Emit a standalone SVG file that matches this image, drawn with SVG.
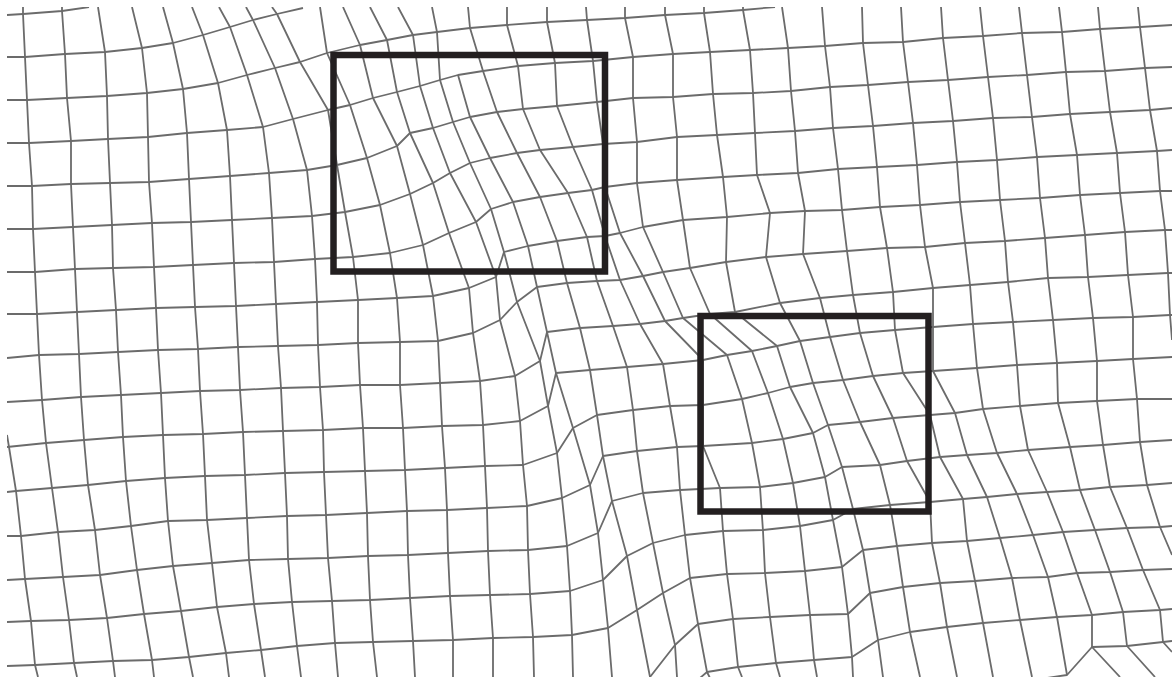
<svg xmlns="http://www.w3.org/2000/svg" width="1174" height="678" viewBox="0 0 1174 678">
<defs>
<style>
.g{fill:none;stroke:#6b6b6b;stroke-width:1.8;stroke-linejoin:round;stroke-linecap:butt}
.f{fill:none;stroke:#231f20;stroke-width:6.5}
</style>
<clipPath id="cl"><rect x="7" y="7" width="1165" height="670"/></clipPath>
</defs>
<rect width="1174" height="678" fill="#ffffff"/>
<g clip-path="url(#cl)">
<g id="rows">
<polyline class="g" points="7,15 23,14 62,11 89,7"/>
<polyline class="g" points="7,57 25,57 65,54 105,52 142,48 173,43 203,35 230,27 253,20 277,14 303,8"/>
<polyline class="g" points="7,100 27,100 67,98 107,96 147,93 183,89 218,83 247,75 275,68 300,62 327,53 360,45 387,40 413,35 437,32 470,28 507,25 547,22 587,20 625,18 665,15 704,13 743,10 775,7"/>
<polyline class="g" points="7,143 29,143 71,141 108,139 148,137 187,133 227,130 263,127 293,119 328,110 350,105 373,98 397,92 420,86 440,80 458,75 483,71 518,66 555,63 593,61 633,57 673,54 710,52 750,50 788,48 825,46 863,43 903,42 943,38 983,36 1022,33 1062,32 1100,29 1140,27 1172,25"/>
<polyline class="g" points="7,186 32,186 71,184 110,183 149,182 189,179 230,176 269,173 307,170 337,165 367,158 397,146 410,133 433,128 453,122 470,117 497,112 523,109 557,106 597,102 633,98 673,97 713,94 753,93 791,91 830,87 868,85 908,82 948,80 988,77 1027,75 1066,72 1105,71 1145,68 1172,67"/>
<polyline class="g" points="7,229 33,229 73,227 112,225 152,223 191,222 232,220 272,218 312,216 345,212 380,205 410,194 433,183 450,173 470,163 490,158 517,153 540,150 573,147 603,144 637,142 677,137 717,135 755,133 795,131 833,128 873,126 913,123 953,121 993,118 1032,117 1070,114 1110,112 1150,110 1172,108"/>
<polyline class="g" points="7,272 35,272 75,269 113,268 154,267 193,265 234,263 274,262 315,259 353,257 390,253 423,245 449,233 476,222 491,209 513,202 540,197 568,193 592,190 605,187 637,183 677,180 723,177 757,175 798,173 838,169 877,167 917,165 957,162 997,160 1037,157 1077,155 1117,153 1157,151 1172,150"/>
<polyline class="g" points="7,314 37,314 77,312 116,310 156,308 195,307 236,306 276,304 317,302 358,300 397,298 433,296 469,288 496,277 504,252 528,246 557,241 587,237 605,236 620,233 643,227 683,220 727,217 770,213 805,211 842,210 880,207 920,205 960,202 1000,200 1040,198 1080,195 1120,193 1160,191 1172,191"/>
<polyline class="g" points="7,358 39,355 79,354 118,352 158,350 198,349 238,347 278,346 318,345 358,343 400,342 438,341 473,333 500,320 517,302 537,287 567,283 597,281 620,280 643,276 663,272 690,268 726,262 766,257 803,254 847,251 887,248 925,247 965,243 1005,241 1045,238 1085,235 1125,232 1165,230 1172,230"/>
<polyline class="g" points="7,402 42,400 81,397 121,395 161,393 200,391 240,390 281,388 320,387 360,385 400,385 440,383 480,381 515,376 540,361 547,332 580,328 613,326 640,324 665,321 683,318 710,314 735,312 780,303 820,298 853,295 893,292 933,288 970,285 1008,282 1048,278 1088,277 1128,275 1168,273 1172,273"/>
<polyline class="g" points="7,447 46,443 84,440 123,437 163,435 203,434 243,432 283,431 323,430 363,428 403,428 442,426 483,425 520,421 548,406 556,373 590,370 627,367 663,364 703,360 727,355 752,351 777,346 800,341 830,337 860,333 895,330 933,327 973,324 1013,322 1053,320 1093,318 1133,317 1170,315 1172,315"/>
<polyline class="g" points="7,492 16,491 52,488 88,485 126,481 165,478 205,476 245,475 285,473 324,472 365,471 405,470 445,468 485,466 523,465 557,453 573,428 597,415 633,410 670,406 703,405 742,399 768,393 790,387 813,383 843,380 873,376 903,373 933,371 977,368 1017,365 1057,363 1097,361 1133,359 1172,357"/>
<polyline class="g" points="7,536 21,536 58,532 95,530 131,526 168,521 207,520 247,518 287,516 326,515 367,513 407,511 447,510 487,508 527,506 562,498 590,485 603,456 637,451 677,447 703,446 752,443 783,439 813,433 828,425 860,422 893,418 930,415 955,413 983,409 1020,406 1058,403 1097,401 1137,399 1172,399"/>
<polyline class="g" points="7,580 25,579 63,577 100,575 137,570 173,566 212,563 249,560 288,559 328,558 368,556 408,555 448,553 488,551 528,550 567,546 598,533 612,501 643,493 680,490 720,488 760,487 793,483 825,477 842,467 880,465 907,461 940,457 967,455 997,453 1028,450 1070,447 1103,445 1140,442 1172,440"/>
<polyline class="g" points="7,622 31,621 69,620 107,618 144,614 181,611 217,607 254,604 292,602 332,601 370,600 410,598 450,596 490,595 530,594 570,591 603,580 627,556 653,543 685,535 723,531 763,530 800,526 833,520 853,509 890,505 930,502 963,499 987,497 1017,494 1047,492 1080,490 1110,487 1147,485 1172,483"/>
<polyline class="g" points="7,666 35,665 74,663 113,661 152,660 189,657 226,653 261,650 297,646 335,643 373,642 413,641 453,640 493,638 533,637 572,635 608,628 637,610 663,593 690,578 727,574 765,573 805,571 842,567 863,550 897,546 932,543 967,541 1000,538 1033,535 1063,532 1095,530 1127,528 1160,527 1172,526"/>
<polyline class="g" points="650,677 675,645 698,624 733,619 770,617 810,615 848,614 870,593 903,587 940,583 975,581 1012,578 1048,577 1077,573 1110,572 1143,570 1172,569"/>
<polyline class="g" points="700,678 707,672 738,667 776,663 814,660 852,657 878,640 910,632 947,627 983,623 1020,620 1057,617 1092,615 1123,612 1160,610 1172,609"/>
<polyline class="g" points="1040,679 1067,675 1092,647 1127,646 1163,642 1172,641"/>
</g>
<g id="columns">
<polyline class="g" points="7,435 9,447 16,491 21,536 25,579 31,621 35,665 38,677"/>
<polyline class="g" points="23,7 23,14 25,57 27,100 29,143 32,186 33,229 35,272 37,314 39,355 42,400 46,443 52,488 58,532 63,577 69,620 74,663 77,677"/>
<polyline class="g" points="62,7 62,11 65,54 67,98 71,141 71,184 73,227 75,269 77,312 79,354 81,397 84,440 88,485 95,530 100,575 107,618 113,661 115,677"/>
<polyline class="g" points="98,7 105,52 107,96 108,139 110,183 112,225 113,268 116,310 118,352 121,395 123,437 126,481 131,526 137,570 144,614 152,660 154,677"/>
<polyline class="g" points="132,7 142,48 147,93 148,137 149,182 152,223 154,267 156,308 158,350 161,393 163,435 165,478 168,521 173,566 181,611 189,657 193,677"/>
<polyline class="g" points="163,7 173,43 183,89 187,133 189,179 191,222 193,265 195,307 198,349 200,391 203,434 205,476 207,520 212,563 217,607 226,653 229,677"/>
<polyline class="g" points="192,7 203,35 218,83 227,130 230,176 232,220 234,263 236,306 238,347 240,390 243,432 245,475 247,518 249,560 254,604 261,650 265,677"/>
<polyline class="g" points="219,7 230,27 247,75 263,127 269,173 272,218 274,262 276,304 278,346 281,388 283,431 285,473 287,516 288,559 292,602 297,646 301,677"/>
<polyline class="g" points="246,7 253,20 275,68 293,119 307,170 312,216 315,259 317,302 318,345 320,387 323,430 324,472 326,515 328,558 332,601 335,643 338,677"/>
<polyline class="g" points="272,7 277,14 300,62 328,110 337,165 345,212 353,257 358,300 358,343 360,385 363,428 365,471 367,513 368,556 370,600 373,642 377,677"/>
<polyline class="g" points="320,7 327,53 350,105 367,158 380,205 390,253 397,298 400,342 400,385 403,428 405,470 407,511 408,555 410,598 413,641 415,677"/>
<polyline class="g" points="343,7 360,45 373,98 397,146 410,194 423,245 433,296 438,341 440,383 442,426 445,468 447,510 448,553 450,596 453,640 453,677"/>
<polyline class="g" points="370,7 387,40 397,92 410,133 433,183 449,233 469,288 473,333 480,381 483,425 485,466 487,508 488,551 490,595 493,638 493,677"/>
<polyline class="g" points="398,7 413,35 420,86 433,128 450,173 476,222 496,277 500,320 515,376 520,421 523,465 527,506 528,550 530,594 533,637 534,677"/>
<polyline class="g" points="432,7 437,32 440,80 453,122 470,163 491,209 504,252 517,302 540,361 548,406 557,453 562,498 567,546 570,591 572,635 573,677"/>
<polyline class="g" points="458,75 470,117 490,158 513,202 528,246 537,287 547,332 556,373 573,428 590,485 598,533 603,580 608,628 612,677"/>
<polyline class="g" points="468,7 470,28 483,71 497,112 517,153 540,197 557,241 567,283 580,328 590,370 597,415 603,456 612,501 627,556 637,610 650,677"/>
<polyline class="g" points="507,7 507,25 518,66 523,109 540,150 568,193 587,237 597,281 613,326 627,367 633,410 637,451 643,493 653,543 663,593 675,645 677,677"/>
<polyline class="g" points="547,7 547,22 555,63 557,106 573,147 592,190 605,236 620,280 640,324 663,364 670,406 677,447 680,490 685,535 690,578 698,624 707,672 710,678"/>
<polyline class="g" points="586,7 587,20 593,61 597,102 603,144 605,187 620,233 643,276 665,321 703,360 703,405 703,446 720,488 723,531 727,574 733,619 738,667 742,677"/>
<polyline class="g" points="625,7 625,18 633,57 633,98 637,142 637,183 643,227 663,272 683,318 727,355 742,399 752,443 760,487 763,531 765,573 770,617 776,663 780,677"/>
<polyline class="g" points="665,7 665,15 673,54 673,97 677,137 677,180 683,220 690,268 710,314 752,351 768,393 783,439 793,483 800,526 805,571 810,615 814,660 817,677"/>
<polyline class="g" points="704,7 704,13 710,52 713,94 717,135 723,177 727,217 726,262 735,312 777,346 790,387 813,433 825,477 833,520 842,567 848,614 852,657 853,677"/>
<polyline class="g" points="743,7 743,10 750,50 753,93 755,133 757,175 770,213 766,257 780,303 800,341 813,383 828,425 842,467 853,509 863,550 870,593 878,640 883,677"/>
<polyline class="g" points="782,7 788,48 791,91 795,131 798,173 805,211 803,254 820,298 830,337 843,380 860,422 880,465 890,505 897,546 903,587 910,632 920,677"/>
<polyline class="g" points="822,7 825,46 830,87 833,128 838,169 842,210 847,251 853,295 860,333 873,376 893,418 907,461 930,502 932,543 940,583 947,627 957,677"/>
<polyline class="g" points="862,7 863,43 868,85 873,126 877,167 880,207 887,248 893,292 895,330 903,373 930,415 940,457 963,499 967,541 975,581 983,623 993,677"/>
<polyline class="g" points="901,7 903,42 908,82 913,123 917,165 920,205 925,247 933,288 933,327 933,371 955,413 967,455 987,497 1000,538 1012,578 1020,620 1032,677"/>
<polyline class="g" points="941,7 943,38 948,80 953,121 957,162 960,202 965,243 970,285 973,324 977,368 983,409 997,453 1017,494 1033,535 1048,577 1057,617 1067,675"/>
<polyline class="g" points="980,7 983,36 988,77 993,118 997,160 1000,200 1005,241 1008,282 1013,322 1017,365 1020,406 1028,450 1047,492 1063,532 1077,573 1092,615 1092,647 1120,677"/>
<polyline class="g" points="1019,7 1022,33 1027,75 1032,117 1037,157 1040,198 1045,238 1048,278 1053,320 1057,363 1058,403 1070,447 1080,490 1095,530 1110,572 1123,612 1127,646 1155,677"/>
<polyline class="g" points="1059,7 1062,32 1066,72 1070,114 1077,155 1080,195 1085,235 1088,277 1093,318 1097,361 1097,401 1103,445 1110,487 1127,528 1143,570 1160,610 1163,642 1172,652"/>
<polyline class="g" points="1098,7 1100,29 1105,71 1110,112 1117,153 1120,193 1125,232 1128,275 1133,317 1133,359 1137,399 1140,442 1147,485 1160,527 1172,555"/>
<polyline class="g" points="1138,7 1140,27 1145,68 1150,110 1157,151 1160,191 1165,230 1168,273 1170,315 1172,340"/>
</g>
</g>
<g id="frames">
<rect id="frame-1" class="f" x="333.5" y="55" width="271.5" height="216.5"/>
<rect id="frame-2" class="f" x="700.5" y="316" width="228" height="195.5"/>
</g>
</svg>
